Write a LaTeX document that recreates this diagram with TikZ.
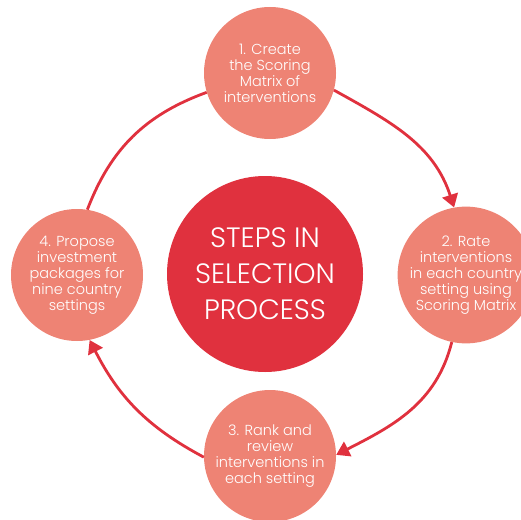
\documentclass[tikz,border=0pt]{standalone}
\usepackage{fontspec}
\setmainfont{Poppins Light}
\usetikzlibrary{%
	arrows.meta%
}
\definecolor{stepred}{HTML}{E0313E}
\definecolor{stepsalmon}{HTML}{EE8374}
\tikzset{
	stepnode/.style={circle, fill=stepsalmon, minimum size=132pt, inner sep=0pt, text=white, align=center, font=\fontsize{14.5}{16}\selectfont},
	hubnode/.style={circle, fill=stepred, minimum size=196pt, inner sep=0pt, text=white, align=center, font=\fontsize{28}{36}\selectfont},
	ring/.style={draw=stepred, line width=2.8pt},
	ringarrow/.style={ring, -{Triangle[length=13pt,width=16pt]}}
}

\begin{document}
\begin{tikzpicture}[x=1pt, y=1pt]
			\useasboundingbox (0,0) rectangle (521,-519);
			
			\node[hubnode] (hub) at (265,-274) {STEPS IN\\SELECTION\\PROCESS};
			
			\node[stepnode] (create) at (270,-73) {1. Create\\the Scoring\\Matrix of\\interventions};
			\node[stepnode] (rate) at (466,-275) {2. Rate\\interventions\\in each country\\setting using\\Scoring Matrix};
			\node[stepnode] (rank) at (270,-456) {3. Rank and\\review\\interventions in\\each setting};
			\node[stepnode] (propose) at (77,-275) {4. Propose\\investment\\packages for\\nine country\\settings};
			
			\draw[ringarrow] (create.-15) to[out=-29, in=108] (rate.100);
			\draw[ringarrow] (rate.-102) to[out=-104, in=27] (rank.1);
			\draw[ringarrow] (rank.181) to[out=152, in=-63] (propose.-79);
			\draw[ring] (propose.81) to[out=69, in=200] (create.197);
		\end{tikzpicture}
\end{document}
